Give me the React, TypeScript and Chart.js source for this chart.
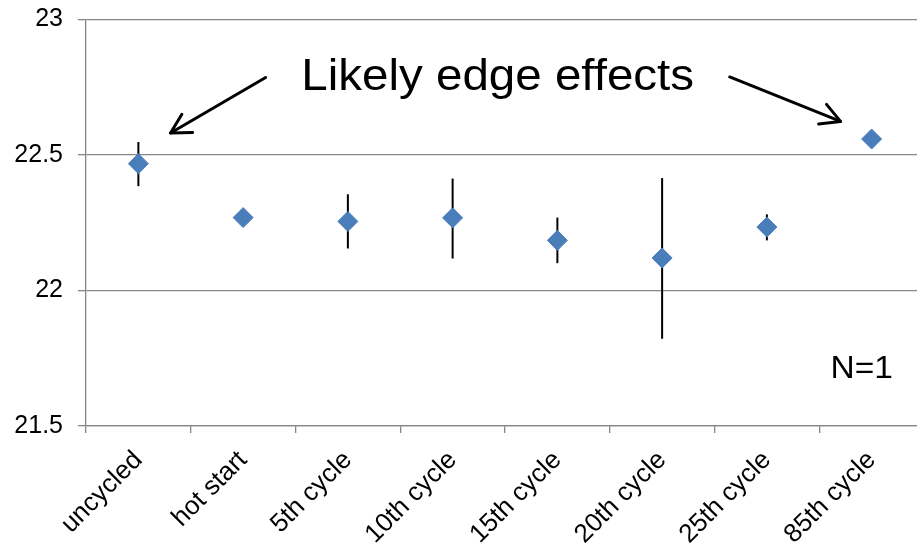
import React, { useEffect, useRef } from "react";
import { Chart, registerables } from "chart.js";

Chart.register(...registerables);

const categories = ["uncycled", "hot start", "5th cycle", "10th cycle", "15th cycle", "20th cycle", "25th cycle", "85th cycle"];
const values = [22.468, 22.269, 22.255, 22.268, 22.185, 22.12, 22.234, 22.559];
const errHigh: (number | null)[] = [22.548, null, 22.355, 22.413, 22.269, 22.415, 22.281, null];
const errLow: (number | null)[] = [22.385, null, 22.155, 22.118, 22.101, 21.822, 22.185, null];
const yTicks = [21.5, 22, 22.5, 23];

// annotations in data units (category index, value)
const arrows = [
  { from: [1.215, 22.786], to: [0.307, 22.581] },
  { from: [5.645, 22.788], to: [6.703, 22.624] },
];
const notes = [
  { text: "Likely edge effects", at: [3.43, 22.785], size: 44 },
  { text: "N=1", at: [6.906, 21.708], size: 31 },
];

const FONT = "'Liberation Sans', Arial, sans-serif";
const GRID = "#868686";
const BLUE = "#4a7ebb";

const errorBarPlugin = {
  id: "errorBars",
  beforeDatasetsDraw(chart: any) {
    const ctx = chart.ctx;
    const meta = chart.getDatasetMeta(0);
    const ys = chart.scales.y;
    ctx.save();
    ctx.strokeStyle = "#000";
    ctx.lineWidth = 2;
    meta.data.forEach((pt: any, i: number) => {
      const hi = errHigh[i];
      const lo = errLow[i];
      if (hi == null || lo == null) return;
      ctx.beginPath();
      ctx.moveTo(pt.x, ys.getPixelForValue(hi));
      ctx.lineTo(pt.x, ys.getPixelForValue(lo));
      ctx.stroke();
    });
    ctx.restore();
  },
};

const annotationPlugin = {
  id: "annotations",
  afterDraw(chart: any) {
    const ctx = chart.ctx;
    const xs = chart.scales.x;
    const ys = chart.scales.y;
    const px = (p: number[]) => [xs.getPixelForValue(p[0]), ys.getPixelForValue(p[1])];
    ctx.save();
    ctx.strokeStyle = "#000";
    ctx.lineWidth = 3;
    ctx.lineCap = "round";
    ctx.lineJoin = "round";
    arrows.forEach((a) => {
      const [x1, y1] = px(a.from);
      const [x2, y2] = px(a.to);
      const ang = Math.atan2(y2 - y1, x2 - x1);
      ctx.beginPath();
      ctx.moveTo(x1, y1);
      ctx.lineTo(x2, y2);
      ctx.stroke();
      const len = 22;
      const spread = 0.5;
      ctx.beginPath();
      ctx.moveTo(x2 - len * Math.cos(ang - spread), y2 - len * Math.sin(ang - spread));
      ctx.lineTo(x2, y2);
      ctx.lineTo(x2 - len * Math.cos(ang + spread), y2 - len * Math.sin(ang + spread));
      ctx.stroke();
    });
    ctx.fillStyle = "#000";
    ctx.textAlign = "center";
    ctx.textBaseline = "middle";
    notes.forEach((n) => {
      const [x, y] = px(n.at);
      ctx.save();
      ctx.translate(x, y);
      ctx.scale(1.08, 1);
      ctx.font = `${n.size}px ${FONT}`;
      ctx.fillText(n.text, 0, 0);
      ctx.restore();
    });
    ctx.restore();
  },
};

export default function App() {
  const ref = useRef<HTMLCanvasElement | null>(null);
  useEffect(() => {
    if (!ref.current) return;
    const chart = new Chart(ref.current, {
      type: "line",
      data: {
        labels: categories,
        datasets: [
          {
            data: values,
            showLine: false,
            pointStyle: "rectRot",
            pointRadius: 10,
            pointBackgroundColor: BLUE,
            pointBorderColor: BLUE,
            pointBorderWidth: 1,
          },
        ],
      },
      options: {
        animation: false,
        responsive: true,
        maintainAspectRatio: false,
        layout: { padding: { top: 19.5, right: 10, left: 0, bottom: 0 } },
        plugins: { legend: { display: false }, tooltip: { enabled: false } },
        scales: {
          x: {
            type: "category",
            offset: true,
            grid: { offset: true, drawOnChartArea: false, drawTicks: true, tickLength: 7, color: GRID, lineWidth: 1.3 },
            border: { display: true, color: GRID, width: 1.3 },
            ticks: {
              minRotation: 45,
              maxRotation: 45,
              autoSkip: false,
              padding: 12,
              color: "#000",
              font: { family: FONT, size: 26 },
            },
            afterFit(scale: any) {
              scale.height = 119;
              scale.paddingLeft = 0;
              scale.paddingRight = 0;
            },
          },
          y: {
            min: 21.5,
            max: 23,
            afterBuildTicks(scale: any) {
              scale.ticks = yTicks.map((v) => ({ value: v }));
            },
            grid: { color: GRID, lineWidth: 1.3, tickLength: 8, drawTicks: true },
            border: { display: true, color: GRID, width: 1.3 },
            ticks: {
              padding: 15,
              color: "#000",
              font: { family: FONT, size: 25 },
              callback: (v: any) => String(v),
            },
            afterFit(scale: any) {
              scale.width = 86;
              scale.paddingTop = 0;
              scale.paddingBottom = 0;
            },
          },
        },
      },
      plugins: [errorBarPlugin, annotationPlugin],
    });
    return () => chart.destroy();
  }, []);
  return (
    <div style={{ position: "fixed", left: 0, top: 0, width: 917, height: 545, overflow: "hidden", background: "#fff" }}>
      <div style={{ position: "relative", width: 935, height: 545 }}>
        <canvas ref={ref} />
      </div>
    </div>
  );
}
